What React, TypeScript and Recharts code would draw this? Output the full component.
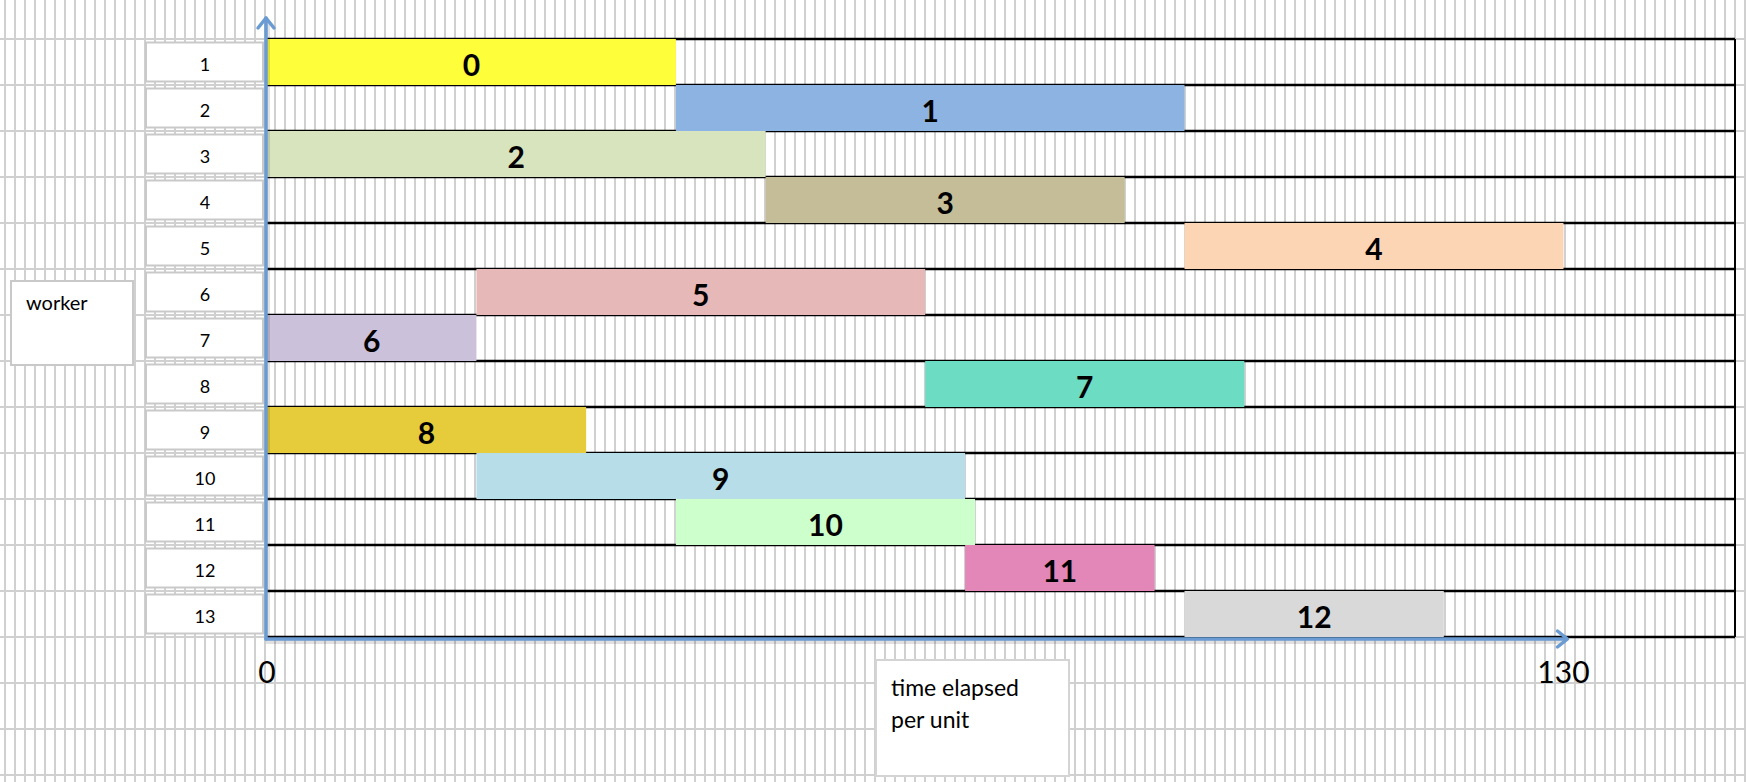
import { BarChart, Bar, XAxis, YAxis, ReferenceLine, CartesianGrid, Cell, LabelList } from "recharts";

const workers = ["1", "2", "3", "4", "5", "6", "7", "8", "9", "10", "11", "12", "13"];
const tasks = ["0", "1", "2", "3", "4", "5", "6", "7", "8", "9", "10", "11", "12"];
const taskStart = [0, 41, 0, 50, 92, 21, 0, 66, 0, 21, 41, 70, 92];
const taskEnd = [41, 92, 50, 86, 130, 66, 21, 98, 32, 70, 71, 89, 118];
const taskColors = [
    "#fefe3b", "#8db3e2", "#d7e4bd", "#c4bd97", "#fcd5b5", "#e6b9b8", "#ccc1da",
    "#6cdcc3", "#e6cb3a", "#b7dee8", "#ccffcc", "#e386b8", "#d9d9d9"
];
const xTicks = [0, 130];

// the sheet runs a bit past the 130 mark
const X_MAX = 147.2;
const AXIS_BLUE = "#6a9bd2";
const FONT = "Lato, 'Open Sans', sans-serif";

const data = workers.map((w, i) => ({
    worker: w,
    task: tasks[i],
    start: taskStart[i],
    dur: taskEnd[i] - taskStart[i]
}));

// row borders sit on the band edges, not on the tick centres
const rowBorders = ({ offset }: any) =>
    Array.from({ length: workers.length + 1 }, (_, i) => offset.top + (i * offset.height) / workers.length);

function WorkerTick({ x, y, payload }: any) {
    return (
        <g>
            <rect x={x - 121} y={y - 19.5} width={117} height={39} fill="#fff" stroke="#c9c9c9" strokeWidth={2} />
            <text x={x - 62} y={y + 3} dy="0.35em" textAnchor="middle" fontSize={18} fontFamily={FONT} fill="#000">
                {payload.value}
            </text>
        </g>
    );
}

function TaskLabel(p: any) {
    const vb = p.viewBox ?? p;
    return (
        <text
            x={vb.x + vb.width / 2}
            y={vb.y + vb.height / 2 + 3}
            dy="0.35em"
            textAnchor="middle"
            fontSize={30}
            fontWeight="bold"
            fontFamily={FONT}
            fill="#000"
        >
            {p.value}
        </text>
    );
}

// segment goes from (0, first worker) to (130, last worker); arrows are drawn from its ends
function AxisArrows(p: any) {
    const x0 = Math.min(p.x1, p.x2);
    const xEnd = Math.max(p.x1, p.x2);
    const yFirst = Math.min(p.y1, p.y2);
    const yLast = Math.max(p.y1, p.y2);
    const half = (yLast - yFirst) / (workers.length - 1) / 2;
    const top = yFirst - half - 22;
    const bottom = yLast + half + 2;
    const xl = x0 - 1;
    const right = xEnd + 4;
    const common = {
        fill: "none",
        stroke: AXIS_BLUE,
        strokeWidth: 3.5,
        strokeLinecap: "round" as const,
        strokeLinejoin: "round" as const
    };
    return (
        <g>
            <line x1={xl + 2} y1={top + 3} x2={xl + 2} y2={bottom} stroke="rgba(0,0,0,0.12)" strokeWidth={4} />
            <line x1={xl} y1={bottom + 3} x2={right - 3} y2={bottom + 3} stroke="rgba(0,0,0,0.12)" strokeWidth={4} />
            <line x1={xl} y1={top + 1} x2={xl} y2={bottom} {...common} />
            <polyline points={`${xl - 8},${top + 11} ${xl},${top + 1} ${xl + 8},${top + 11}`} {...common} />
            <line x1={xl} y1={bottom} x2={right - 1} y2={bottom} {...common} />
            <polyline points={`${right - 10},${bottom - 8} ${right},${bottom} ${right - 10},${bottom + 8}`} {...common} />
        </g>
    );
}

export default function App() {
    return (
        <div
            style={{
                position: "absolute",
                left: 0,
                top: 0,
                width: 1746,
                height: 782,
                overflow: "hidden",
                backgroundColor: "#fff",
                backgroundImage:
                    "linear-gradient(to right, #d0d0d0 2px, transparent 2px), linear-gradient(to bottom, #d0d0d0 2px, transparent 2px)",
                backgroundSize: "10px 100%, 100% 46px",
                backgroundPosition: "4px 0, 0 38px",
                fontFamily: FONT
            }}
        >
            <BarChart
                width={1746}
                height={782}
                data={data}
                layout="vertical"
                barCategoryGap={0}
                margin={{ top: 39, right: 11, bottom: 85, left: 0 }}
            >
                <CartesianGrid
                    vertical={false}
                    stroke="#000"
                    strokeWidth={2.5}
                    strokeOpacity={1}
                    horizontalCoordinatesGenerator={rowBorders}
                />
                <XAxis
                    type="number"
                    domain={[0, X_MAX]}
                    ticks={xTicks}
                    height={60}
                    axisLine={false}
                    tickLine={false}
                    tickSize={0}
                    tickMargin={25}
                    tick={{ fontSize: 30, fill: "#000", fontFamily: FONT }}
                />
                <YAxis
                    type="category"
                    dataKey="worker"
                    width={267}
                    axisLine={false}
                    tickLine={false}
                    tickSize={0}
                    tickMargin={0}
                    interval={0}
                    tick={<WorkerTick />}
                />
                <Bar dataKey="start" stackId="t" fill="transparent" isAnimationActive={false} />
                <Bar dataKey="dur" stackId="t" isAnimationActive={false}>
                    {data.map((d, i) => (
                        <Cell key={d.worker} fill={taskColors[i]} />
                    ))}
                    <LabelList dataKey="task" content={TaskLabel} />
                </Bar>
                <ReferenceLine x={X_MAX} stroke="#000" strokeWidth={2} />
                <ReferenceLine
                    segment={[
                        { x: 0, y: workers[0] },
                        { x: xTicks[1], y: workers[workers.length - 1] }
                    ]}
                    shape={AxisArrows}
                />
            </BarChart>

            <div
                style={{
                    position: "absolute",
                    left: 10,
                    top: 280,
                    width: 124,
                    height: 86,
                    background: "#fff",
                    border: "2px solid #c9c9c9",
                    boxSizing: "border-box",
                    padding: "8px 0 0 14px",
                    fontSize: 20,
                    color: "#000"
                }}
            >
                worker
            </div>
            <div
                style={{
                    position: "absolute",
                    left: 875,
                    top: 659,
                    width: 195,
                    height: 118,
                    background: "#fff",
                    border: "2px solid #d4d4d4",
                    boxSizing: "border-box",
                    padding: "10px 0 0 14px",
                    fontSize: 23,
                    lineHeight: "32px",
                    color: "#000"
                }}
            >
                time elapsed
                <br />
                per unit
            </div>
        </div>
    );
}
